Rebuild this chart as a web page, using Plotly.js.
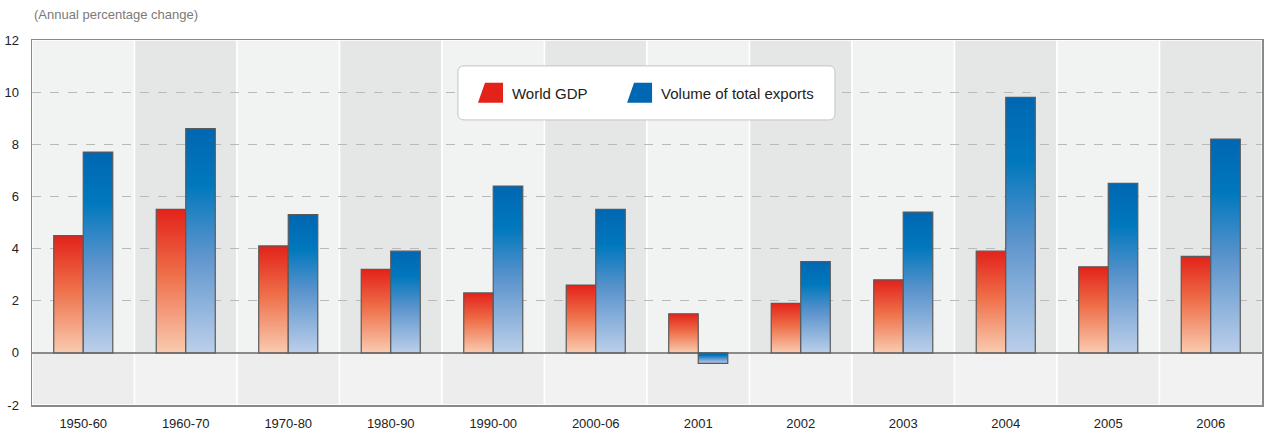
<!DOCTYPE html>
<html>
<head>
<meta charset="utf-8">
<script src="https://cdn.plot.ly/plotly-3.0.1.min.js"></script>
<style>
  html, body { margin: 0; padding: 0; background: #ffffff; }
  #chart { width: 1266px; height: 437px; }
</style>
</head>
<body>
<div id="chart"></div>
<script>
const categories = ["1950-60", "1960-70", "1970-80", "1980-90", "1990-00", "2000-06", "2001", "2002", "2003", "2004", "2005", "2006"];
const worldGDP = [4.5, 5.5, 4.1, 3.2, 2.3, 2.6, 1.5, 1.9, 2.8, 3.9, 3.3, 3.7];
const exportsVolume = [7.7, 8.6, 5.3, 3.9, 6.4, 5.5, -0.4, 3.5, 5.4, 9.8, 6.5, 8.2];
const yTicks = [-2, 0, 2, 4, 6, 8, 10, 12];
const seriesNames = ["World GDP", "Volume of total exports"];
const subtitle = "(Annual percentage change)";

const FONT = "'Liberation Sans', Arial, sans-serif";

const shapes = [];
categories.forEach((c, i) => {
  shapes.push({
    type: "rect", layer: "below", xref: "x", yref: "y",
    x0: i - 0.5, x1: i + 0.5, y0: 0, y1: 12,
    fillcolor: i % 2 === 0 ? "#f1f2f2" : "#e5e6e6",
    line: { color: "#ffffff", width: 1.5 }
  });
  shapes.push({
    type: "rect", layer: "below", xref: "x", yref: "y",
    x0: i - 0.5, x1: i + 0.5, y0: -2, y1: 0,
    fillcolor: i % 2 === 0 ? "#ededed" : "#f2f2f2",
    line: { color: "#ffffff", width: 1.5 }
  });
});
// legend box (rounded corners)
(function () {
  const x0 = 0.3463, x1 = 0.6528, y0 = 0.781, y1 = 0.929;
  const rx = 0.005, ry = 0.016;
  shapes.push({
    type: "path", layer: "above", xref: "paper", yref: "paper",
    path: "M " + (x0 + rx) + "," + y0 + " L " + (x1 - rx) + "," + y0 +
          " Q " + x1 + "," + y0 + " " + x1 + "," + (y0 + ry) +
          " L " + x1 + "," + (y1 - ry) +
          " Q " + x1 + "," + y1 + " " + (x1 - rx) + "," + y1 +
          " L " + (x0 + rx) + "," + y1 +
          " Q " + x0 + "," + y1 + " " + x0 + "," + (y1 - ry) +
          " L " + x0 + "," + (y0 + ry) +
          " Q " + x0 + "," + y0 + " " + (x0 + rx) + "," + y0 + " Z",
    fillcolor: "#ffffff",
    line: { color: "#c4c4c4", width: 1 }
  });
})();

const data = [
  {
    type: "bar", name: seriesNames[0], x: categories.map((c, i) => i), y: worldGDP,
    marker: { color: "#e3261c", line: { color: "#5a5a5a", width: 1.2 } },
    legend: "legend", hoverinfo: "skip"
  },
  {
    type: "bar", name: seriesNames[1], x: categories.map((c, i) => i), y: exportsVolume,
    marker: { color: "#006ab4", line: { color: "#5a5a5a", width: 1.2 } },
    legend: "legend2", hoverinfo: "skip"
  }
];

const legendBase = {
  orientation: "h",
  yanchor: "middle", y: 0.855,
  xanchor: "left",
  bgcolor: "rgba(0,0,0,0)",
  borderwidth: 0,
  font: { family: FONT, size: 15, color: "#222222" }
};

const layout = {
  width: 1266, height: 437,
  margin: { l: 32, r: 4, t: 40, b: 32 },
  paper_bgcolor: "#ffffff",
  plot_bgcolor: "#f1f2f2",
  barmode: "group",
  bargap: 0.424,
  bargroupgap: 0,
  font: { family: FONT, size: 13, color: "#222222" },
  showlegend: true,
  legend: Object.assign({}, legendBase, { x: 0.3577 }),
  legend2: Object.assign({}, legendBase, { x: 0.4789 }),
  xaxis: {
    range: [-0.5, categories.length - 0.5],
    tickmode: "array",
    tickvals: categories.map((c, i) => i),
    ticktext: categories,
    showgrid: false, zeroline: false,
    showline: true, linecolor: "#8a8a8a", linewidth: 1.5, mirror: true,
    ticks: "", ticklabelstandoff: 6,
    tickfont: { family: FONT, size: 13, color: "#222222" },
    fixedrange: true
  },
  yaxis: {
    range: [-2, 12],
    tickmode: "array",
    tickvals: yTicks,
    ticktext: yTicks.map(String),
    showgrid: true, gridcolor: "#b9b9b9", griddash: "dash", gridwidth: 1,
    zeroline: true, zerolinecolor: "#8a8a8a", zerolinewidth: 1.5,
    showline: true, linecolor: "#8a8a8a", linewidth: 1.5, mirror: true,
    ticks: "", ticklabelstandoff: 9,
    tickfont: { family: FONT, size: 13, color: "#222222" },
    fixedrange: true
  },
  shapes: shapes,
  annotations: [{
    xref: "paper", yref: "paper", x: 0, y: 1.0, yshift: 26,
    xanchor: "left", yanchor: "middle", showarrow: false,
    text: subtitle, font: { family: FONT, size: 13, color: "#7a7a7a" }
  }]
};

function addGradients(gd) {
  const svg = gd.querySelector("svg.main-svg");
  const ns = "http://www.w3.org/2000/svg";
  let defs = svg.querySelector("defs");
  if (!defs) { defs = document.createElementNS(ns, "defs"); svg.insertBefore(defs, svg.firstChild); }
  function grad(id, stops) {
    if (svg.querySelector("#" + id)) return;
    const g = document.createElementNS(ns, "linearGradient");
    g.setAttribute("id", id);
    g.setAttribute("x1", "0"); g.setAttribute("y1", "0");
    g.setAttribute("x2", "0"); g.setAttribute("y2", "1");
    stops.forEach(s => {
      const st = document.createElementNS(ns, "stop");
      st.setAttribute("offset", s[0]);
      st.setAttribute("stop-color", s[1]);
      g.appendChild(st);
    });
    defs.appendChild(g);
  }
  grad("gradRed", [["0", "#e3221a"], ["0.45", "#ee6e48"], ["1", "#f9cbb0"]]);
  grad("gradBlue", [["0", "#0067b2"], ["0.25", "#0078bd"], ["0.55", "#5a93cc"], ["1", "#bccfea"]]);
  const traces = gd.querySelectorAll(".barlayer .trace.bars");
  traces.forEach((t, idx) => {
    const id = idx === 0 ? "gradRed" : "gradBlue";
    t.querySelectorAll("path").forEach(p => { p.style.fill = "url(#" + id + ")"; });
  });
  // legend symbols: trapezoid shape
  const legs = gd.querySelectorAll(".infolayer > g.legend, .infolayer > g.legend2");
  legs.forEach((lg) => {
    const isSecond = lg.classList.contains("legend2");
    lg.querySelectorAll(".legendpoints path").forEach(p => {
      p.setAttribute("d", "M-14,10L-7,-10H11V10Z");
      p.style.fill = isSecond ? "#0067b2" : "#e3221a";
      p.style.stroke = "none";
    });
  });
}

Plotly.newPlot("chart", data, layout, { staticPlot: true, displayModeBar: false }).then(gd => {
  addGradients(gd);
});
</script>
</body>
</html>
